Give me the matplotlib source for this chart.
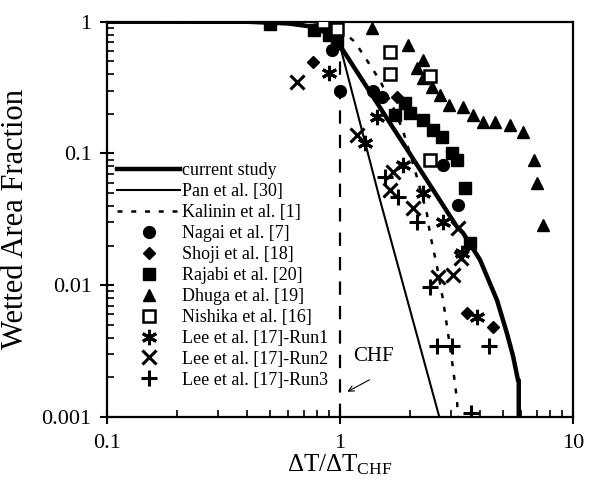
import matplotlib
matplotlib.use("Agg")
import matplotlib.pyplot as plt
from matplotlib.ticker import FixedLocator, FixedFormatter, LogLocator, NullFormatter

plt.rcParams['font.family'] = ['Liberation Serif', 'DejaVu Serif']
plt.rcParams['mathtext.fontset'] = 'custom'
plt.rcParams['mathtext.rm'] = 'Liberation Serif'
plt.rcParams['mathtext.it'] = 'Liberation Serif:italic'

# ---- data ----
current_x = [0.1, 0.4, 0.6, 0.75, 0.88, 1.0, 3.18, 3.37, 3.99, 4.72, 5.21, 5.53, 5.81, 5.85, 5.85]
current_y = [1.0, 1.0, 0.97, 0.92, 0.82, 0.66, 0.0277, 0.025, 0.0156, 0.0077, 0.0043, 0.0029, 0.0019, 0.0019, 0.00095]

pan_x = [0.1, 0.6, 0.8, 0.92, 1.0, 1.485, 2.69]
pan_y = [1.0, 0.98, 0.92, 0.8, 0.66, 0.0444, 0.00095]

kal_x = [0.1, 0.8, 0.95, 1.05, 1.16, 1.32, 1.48, 1.69, 1.86, 2.14, 2.36, 2.43, 2.61, 2.77, 2.91, 3.05, 3.18, 3.21]
kal_y = [1.0, 0.99, 0.93, 0.82, 0.70, 0.494, 0.361, 0.225, 0.151, 0.066, 0.035, 0.025, 0.0138, 0.0077, 0.0043, 0.0024, 0.00134, 0.00095]

nagai_x = [0.92, 1.0, 1.39, 1.51, 2.77, 3.21]
nagai_y = [0.61, 0.30, 0.30, 0.268, 0.082, 0.041]

shoji_x = [0.766, 1.76, 3.51, 4.54]
shoji_y = [0.494, 0.268, 0.0062, 0.0048]

rajabi_x = [0.50, 0.77, 0.90, 0.97, 1.72, 1.90, 2.0, 2.27, 2.51, 2.74, 3.02, 3.18, 3.44, 3.61]
rajabi_y = [0.96, 0.87, 0.80, 0.72, 0.196, 0.242, 0.203, 0.18, 0.151, 0.133, 0.10, 0.089, 0.055, 0.021]

dhuga_x = [0.95, 1.37, 1.96, 2.27, 2.14, 2.27, 2.48, 2.69, 2.94, 3.37, 3.72, 4.11, 4.63, 5.37, 6.10, 6.80, 7.0, 7.44]
dhuga_y = [1.0, 0.90, 0.666, 0.512, 0.445, 0.374, 0.32, 0.278, 0.233, 0.225, 0.196, 0.173, 0.173, 0.164, 0.146, 0.089, 0.060, 0.0287]

nishika_x = [0.845, 0.97, 1.64, 1.64, 2.43, 2.43]
nishika_y = [1.0, 0.88, 0.589, 0.40, 0.39, 0.089]

run1_x = [0.897, 1.28, 1.44, 1.86, 2.27, 2.77, 3.34, 3.87]
run1_y = [0.408, 0.12, 0.189, 0.082, 0.05, 0.030, 0.0175, 0.0057]

run2_x = [0.654, 1.18, 1.69, 1.64, 2.06, 3.21, 3.30, 2.63, 3.05]
run2_y = [0.349, 0.138, 0.072, 0.0528, 0.0386, 0.0272, 0.016, 0.0116, 0.012]

run3_x = [1.56, 1.77, 2.14, 2.43, 2.61, 3.02, 4.36, 3.65]
run3_y = [0.066, 0.0468, 0.030, 0.0097, 0.00346, 0.00346, 0.00346, 0.00107]

x_ticks = [0.1, 1, 10]
x_tick_labels = ['0.1', '1', '10']
y_ticks = [0.001, 0.01, 0.1, 1]
y_tick_labels = ['0.001', '0.01', '0.1', '1']

# ---- figure ----
fig = plt.figure(figsize=(5.92, 4.83), dpi=100)
ax = fig.add_axes([0.1807, 0.1366, 0.7872, 0.8184])
ax.set_xscale('log')
ax.set_yscale('log')
ax.set_xlim(0.1, 10)
ax.set_ylim(0.001, 1)

ax.plot([1, 1], [0.001, 1], color='black', lw=1.6, dashes=(6, 5), zorder=1)
ax.plot(current_x, current_y, color='black', lw=3.2, label='current study', zorder=3)
ax.plot(pan_x, pan_y, color='black', lw=1.5, label='Pan et al. [30]', zorder=3)
ax.plot(kal_x, kal_y, color='black', lw=1.8, dashes=(2, 3.5), label='Kalinin et al. [1]', zorder=3)

ms = 8.5
ax.plot(nagai_x, nagai_y, 'o', color='black', ms=ms, ls='none', label='Nagai et al. [7]', zorder=4)
ax.plot(shoji_x, shoji_y, 'D', color='black', ms=6.5, ls='none', label='Shoji et al. [18]', zorder=4)
ax.plot(rajabi_x, rajabi_y, 's', color='black', ms=8, ls='none', label='Rajabi et al. [20]', zorder=4)
ax.plot(dhuga_x, dhuga_y, '^', color='black', ms=8.5, ls='none', label='Dhuga et al. [19]', zorder=4)
ax.plot(nishika_x, nishika_y, 's', mfc='white', mec='black', mew=1.8, ms=8, ls='none', label='Nishika et al. [16]', zorder=4)
ax.plot(run1_x, run1_y, marker=(6, 2, 0), color='black', mew=2.2, ms=11, ls='none', label='Lee et al. [17]-Run1', zorder=4)
ax.plot(run2_x, run2_y, 'x', color='black', mew=2.2, ms=10, ls='none', label='Lee et al. [17]-Run2', zorder=4)
ax.plot(run3_x, run3_y, '+', color='black', mew=2.2, ms=11, ls='none', label='Lee et al. [17]-Run3', zorder=4)

ax.annotate('', xy=(1.05, 0.00152), xytext=(1.37, 0.00196),
            arrowprops=dict(arrowstyle='->', color='black', lw=0.8))
ax.text(1.39, 0.00286, 'CHF', fontsize=15, ha='center', va='center')

ax.xaxis.set_major_locator(FixedLocator(x_ticks))
ax.xaxis.set_major_formatter(FixedFormatter(x_tick_labels))
ax.yaxis.set_major_locator(FixedLocator(y_ticks))
ax.yaxis.set_major_formatter(FixedFormatter(y_tick_labels))
ax.xaxis.set_minor_locator(LogLocator(base=10, subs=range(2, 10)))
ax.yaxis.set_minor_locator(LogLocator(base=10, subs=range(2, 10)))
ax.xaxis.set_minor_formatter(NullFormatter())
ax.yaxis.set_minor_formatter(NullFormatter())

ax.tick_params(which='major', direction='inout', length=10, width=1.5, labelsize=16,
               top=False, right=False)
ax.tick_params(which='minor', direction='in', length=5, width=1.2, top=False, right=False)
ax.tick_params(axis='x', which='major', pad=7)
ax.tick_params(axis='y', which='major', pad=6)
for s in ax.spines.values():
    s.set_linewidth(1.6)

ax.set_xlabel('ΔT/ΔT$_{\\mathrm{CHF}}$', fontsize=18, labelpad=0)
ax.set_ylabel('Wetted Area Fraction', fontsize=22, labelpad=8)

leg = ax.legend(loc='upper left', bbox_to_anchor=(0.0215, 0.645), frameon=False,
                fontsize=13, handlelength=3.5, handletextpad=0.1, labelspacing=0.22,
                borderpad=0, borderaxespad=0, numpoints=1)

fig.savefig('out.png', dpi=100)
